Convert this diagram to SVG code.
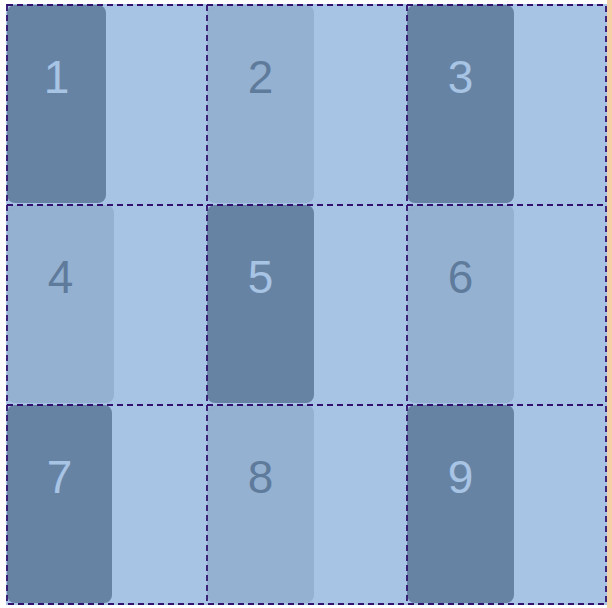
<svg xmlns="http://www.w3.org/2000/svg" width="612" height="608" viewBox="0 0 612 608">
<style>
.dk{fill:#6783a4}
.lt{fill:#95b1d1}
.n{font-family:"Liberation Sans",Arial,sans-serif;font-size:46px;text-anchor:middle}
.dk-t{fill:#a8c4e4}
.lt-t{fill:#5f7b9c}
.grid{stroke:#33126f;stroke-width:1.8;stroke-dasharray:6 4;fill:none}
</style>
<rect x="0" y="0" width="612" height="608" fill="#ffffff"/>
<rect x="607" y="0" width="5" height="608" fill="#f5cfa5"/>
<rect x="6" y="4" width="601" height="601" fill="#a8c4e4"/>
<g id="node1"><rect class="dk" x="7" y="5" width="99" height="198" rx="8"/><text class="n dk-t" x="56.5" y="93">1</text></g>
<g id="node2"><rect class="lt" x="207" y="5" width="107" height="198" rx="8"/><text class="n lt-t" x="260.5" y="93">2</text></g>
<g id="node3"><rect class="dk" x="407" y="5" width="107" height="198" rx="8"/><text class="n dk-t" x="460.5" y="93">3</text></g>
<g id="node4"><rect class="lt" x="7" y="205" width="107" height="198" rx="8"/><text class="n lt-t" x="60.5" y="293">4</text></g>
<g id="node5"><rect class="dk" x="207" y="205" width="107" height="198" rx="8"/><text class="n dk-t" x="260.5" y="293">5</text></g>
<g id="node6"><rect class="lt" x="407" y="205" width="107" height="198" rx="8"/><text class="n lt-t" x="460.5" y="293">6</text></g>
<g id="node7"><rect class="dk" x="7" y="405" width="105" height="198" rx="8"/><text class="n dk-t" x="59.5" y="493">7</text></g>
<g id="node8"><rect class="lt" x="207" y="405" width="107" height="198" rx="8"/><text class="n lt-t" x="260.5" y="493">8</text></g>
<g id="node9"><rect class="dk" x="407" y="405" width="107" height="198" rx="8"/><text class="n dk-t" x="460.5" y="493">9</text></g>
<g id="connectors">
<path class="grid" d="M7,5H606V604H7Z"/>
<path class="grid" d="M207,5V604M407,5V604M7,205H606M7,405H606"/>
</g>
</svg>
